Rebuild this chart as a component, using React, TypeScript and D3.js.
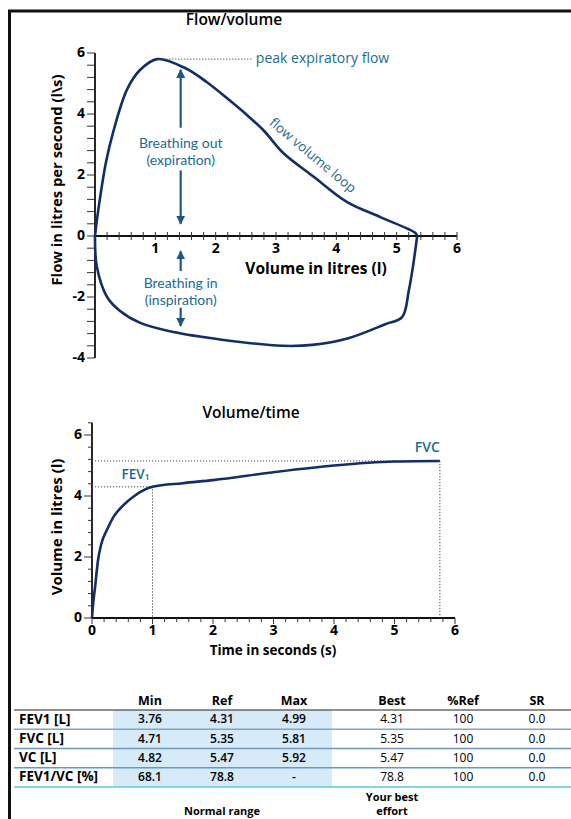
import React, { useRef, useEffect } from 'react'
import * as d3 from 'd3'

// flow/volume loop: [volume in l, flow in l/s]
const expiration: [number, number][] = [
  [0, 0], [0.03, 0.5], [0.08, 1.2], [0.18, 2.4], [0.3, 3.4], [0.53, 4.8], [0.75, 5.45],
  [1.03, 5.8], [1.5, 5.5], [1.85, 5.05], [2.2, 4.5], [2.5, 4.0], [2.8, 3.45], [3.12, 2.72],
  [3.62, 1.95], [4.18, 1.11], [4.73, 0.62], [5.31, 0.1], [5.34, 0]
]
const inspiration: [number, number][] = [
  [0, 0], [0.03, -1.0], [0.2, -2.0], [0.41, -2.45], [0.75, -2.85], [1.3, -3.15], [2.1, -3.4],
  [3.1, -3.6], [3.6, -3.57], [4.2, -3.35], [4.8, -2.9], [5.09, -2.66], [5.2, -1.8],
  [5.27, -1.0], [5.34, 0]
]
// volume/time curve: [time in s, volume in l]
const volumeTime: [number, number][] = [
  [0, 0], [0.02, 0.5], [0.05, 1.0], [0.1, 1.9], [0.15, 2.4], [0.25, 2.9], [0.35, 3.3],
  [0.52, 3.7], [0.7, 4.0], [1.0, 4.3], [1.5, 4.42], [2, 4.52], [3, 4.78], [4, 5.0],
  [5, 5.13], [5.75, 5.15]
]
const peakFlow = { vol: 1.03, flow: 5.8, lineEnd: 2.6 }
const fev1 = { t: 1, v: 4.3 }
const fvc = { t: 5.75, v: 5.15 }

const flowLabels = [-4, -2, 0, 2, 4, 6]
const volLabels = [1, 2, 3, 4, 5, 6]
const volTimeLabels = [0, 2, 4, 6]
const timeLabels = [0, 1, 2, 3, 4, 5, 6]

const rowLabels = ['FEV1 [L]', 'FVC [L]', 'VC [L]', 'FEV1/VC [%]']
const colHeads = ['Min', 'Ref', 'Max', 'Best', '%Ref', 'SR']
const minValues = ['3.76', '4.71', '4.82', '68.1']
const refValues = ['4.31', '5.35', '5.47', '78.8']
const maxValues = ['4.99', '5.81', '5.92', '-']
const bestValues = ['4.31', '5.35', '5.47', '78.8']
const pctRefValues = ['100', '100', '100', '100']
const srValues = ['0.0', '0.0', '0.0', '0.0']

const font = '"Open Sans", sans-serif'
const noteFont = 'Lato, "Open Sans", sans-serif'
const navy = '#122d68'
const teal = '#1a6b91'
const arrowBlue = '#1d5785'

export default function App() {
  const ref = useRef<SVGSVGElement>(null)

  useEffect(() => {
    const svg = d3.select(ref.current)
    svg.selectAll('*').remove()

    // frame
    svg.append('line').attr('x1', 8).attr('x2', 571).attr('y1', 11).attr('y2', 11)
      .attr('stroke', '#111').attr('stroke-width', 3)
    svg.append('line').attr('x1', 9.5).attr('x2', 9.5).attr('y1', 10).attr('y2', 819)
      .attr('stroke', '#111').attr('stroke-width', 3)

    const defs = svg.append('defs')
    defs.append('marker').attr('id', 'head').attr('viewBox', '0 0 10 10')
      .attr('refX', 9).attr('refY', 5).attr('markerWidth', 9).attr('markerHeight', 9)
      .attr('markerUnits', 'userSpaceOnUse').attr('orient', 'auto')
      .append('path').attr('d', 'M0,0 L10,5 L0,10 Z').attr('fill', arrowBlue)

    // ---------- flow / volume ----------
    const xF = d3.scaleLinear().domain([0, 6]).range([95, 457])
    const yF = d3.scaleLinear().domain([-4, 6]).range([358, 53])
    const top = svg.append('g')

    top.append('text').text('Flow/volume').attr('x', 234).attr('y', 21)
      .attr('text-anchor', 'middle').attr('dominant-baseline', 'middle')
      .attr('font-family', font).attr('font-weight', 600).attr('font-size', 15.5)

    top.append('line').attr('x1', xF(0)).attr('x2', xF(0)).attr('y1', yF(-4)).attr('y2', yF(6))
      .attr('stroke', '#111').attr('stroke-width', 1.8)
    top.selectAll('.ytick').data(d3.range(0, 26).map(i => -4 + i * 0.4)).join('line')
      .attr('x1', xF(0) - 8).attr('x2', xF(0)).attr('y1', d => yF(d)).attr('y2', d => yF(d))
      .attr('stroke', '#333').attr('stroke-width', 1)
    top.selectAll('.ylab').data(flowLabels).join('text').text(d => d)
      .attr('x', xF(0) - 10).attr('y', d => yF(d)).attr('text-anchor', 'end')
      .attr('dominant-baseline', 'middle').attr('font-family', font).attr('font-weight', 700)
      .attr('font-size', 14)

    top.append('line').attr('x1', xF(0)).attr('x2', xF(6)).attr('y1', yF(0)).attr('y2', yF(0))
      .attr('stroke', '#111').attr('stroke-width', 1.8)
    top.selectAll('.xtick').data(d3.range(0, 31).map(i => i * 0.2)).join('line')
      .attr('x1', d => xF(d)).attr('x2', d => xF(d)).attr('y1', yF(0) - 4).attr('y2', yF(0) + 4)
      .attr('stroke', '#333').attr('stroke-width', 1)
    top.selectAll('.xlab').data(volLabels).join('text').text(d => d)
      .attr('x', d => xF(d)).attr('y', yF(0) + 13).attr('text-anchor', 'middle')
      .attr('dominant-baseline', 'middle').attr('font-family', font).attr('font-weight', 700)
      .attr('font-size', 14)

    top.append('text').text('Volume in litres (l)').attr('x', 316).attr('y', 270)
      .attr('text-anchor', 'middle').attr('dominant-baseline', 'middle')
      .attr('font-family', font).attr('font-weight', 700).attr('font-size', 15.5)
    top.append('text').text('Flow in litres per second (l\\s)')
      .attr('transform', `translate(58, 180) rotate(-90)`)
      .attr('text-anchor', 'middle').attr('dominant-baseline', 'middle')
      .attr('font-family', font).attr('font-weight', 700).attr('font-size', 14.8)

    const loopLine = d3.line<[number, number]>().x(d => xF(d[0])).y(d => yF(d[1]))
      .curve(d3.curveCatmullRom.alpha(0.5))
    top.append('path').attr('d', loopLine(expiration)).attr('fill', 'none')
      .attr('stroke', navy).attr('stroke-width', 2.6)
    top.append('path').attr('d', loopLine(inspiration)).attr('fill', 'none')
      .attr('stroke', navy).attr('stroke-width', 2.6)

    // peak expiratory flow
    top.append('line').attr('x1', xF(peakFlow.vol)).attr('x2', xF(peakFlow.lineEnd))
      .attr('y1', yF(peakFlow.flow)).attr('y2', yF(peakFlow.flow))
      .attr('stroke', '#444').attr('stroke-width', 1).attr('stroke-dasharray', '1.2,1.8')
    top.append('text').text('peak expiratory flow').attr('x', xF(peakFlow.lineEnd) + 4)
      .attr('y', yF(peakFlow.flow)).attr('dominant-baseline', 'middle')
      .attr('font-family', font).attr('font-size', 14).attr('fill', teal)

    top.append('text').text('flow volume loop')
      .attr('transform', `translate(${xF(3.6)}, ${yF(2.62)}) rotate(40)`)
      .attr('text-anchor', 'middle').attr('dominant-baseline', 'middle')
      .attr('font-family', font).attr('font-size', 13.5).attr('fill', teal)

    // breathing arrows
    const ax = xF(1.42)
    const arrows = [[3.55, 5.45], [2.15, 0.4], [-1.15, -0.5], [-2.35, -2.95]]
    top.selectAll('.arrow').data(arrows).join('line')
      .attr('x1', ax).attr('x2', ax).attr('y1', d => yF(d[0])).attr('y2', d => yF(d[1]))
      .attr('stroke', arrowBlue).attr('stroke-width', 2.2).attr('marker-end', 'url(#head)')
    const notes = [['Breathing out', '(expiration)', 3.05], ['Breathing in', '(inspiration)', -1.55]]
    notes.forEach(n => {
      const t = top.append('text').attr('text-anchor', 'middle').attr('font-family', noteFont)
        .attr('font-size', 14).attr('fill', teal)
      t.append('tspan').text(n[0] as string).attr('x', ax).attr('y', yF(n[2] as number) + 5)
      t.append('tspan').text(n[1] as string).attr('x', ax).attr('dy', 17)
    })

    // ---------- volume / time ----------
    const xT = d3.scaleLinear().domain([0, 6]).range([92, 455])
    const yV = d3.scaleLinear().domain([0, 6]).range([618, 435])
    const bot = svg.append('g')

    bot.append('text').text('Volume/time').attr('x', 251).attr('y', 414)
      .attr('text-anchor', 'middle').attr('dominant-baseline', 'middle')
      .attr('font-family', font).attr('font-weight', 600).attr('font-size', 15.5)

    bot.append('line').attr('x1', xT(0)).attr('x2', xT(0)).attr('y1', yV(0)).attr('y2', yV(6.4))
      .attr('stroke', '#111').attr('stroke-width', 1.8)
    bot.selectAll('.ytick').data(d3.range(0, 17)).join('line')
      .attr('x1', d => xT(0) - (d % 5 === 0 ? 8 : 4))
      .attr('x2', xT(0)).attr('y1', d => yV(d * 0.4)).attr('y2', d => yV(d * 0.4))
      .attr('stroke', '#333').attr('stroke-width', 1)
    bot.selectAll('.ylab').data(volTimeLabels).join('text').text(d => d)
      .attr('x', xT(0) - 10).attr('y', d => yV(d)).attr('text-anchor', 'end')
      .attr('dominant-baseline', 'middle').attr('font-family', font).attr('font-weight', 700)
      .attr('font-size', 14)

    bot.append('line').attr('x1', xT(0)).attr('x2', xT(6)).attr('y1', yV(0)).attr('y2', yV(0))
      .attr('stroke', '#111').attr('stroke-width', 1.8)
    bot.selectAll('.xtick').data(d3.range(0, 31).map(i => i * 0.2)).join('line')
      .attr('x1', d => xT(d)).attr('x2', d => xT(d)).attr('y1', yV(0))
      .attr('y2', (d, i) => yV(0) + (i % 5 === 0 ? 6 : 4))
      .attr('stroke', '#333').attr('stroke-width', 1)
    bot.selectAll('.xlab').data(timeLabels).join('text').text(d => d)
      .attr('x', d => xT(d)).attr('y', yV(0) + 13).attr('text-anchor', 'middle')
      .attr('dominant-baseline', 'middle').attr('font-family', font).attr('font-weight', 700)
      .attr('font-size', 14)

    bot.append('text').text('Time in seconds (s)').attr('x', 273).attr('y', 651)
      .attr('text-anchor', 'middle').attr('dominant-baseline', 'middle')
      .attr('font-family', font).attr('font-weight', 700).attr('font-size', 13.5)
    bot.append('text').text('Volume in litres (l)')
      .attr('transform', `translate(58, 527) rotate(-90)`)
      .attr('text-anchor', 'middle').attr('dominant-baseline', 'middle')
      .attr('font-family', font).attr('font-weight', 700).attr('font-size', 15)

    // guide lines for FEV1 and FVC
    const guides = [fev1, fvc]
    guides.forEach(g => {
      bot.append('polyline')
        .attr('points', `${xT(0)},${yV(g.v)} ${xT(g.t)},${yV(g.v)} ${xT(g.t)},${yV(0)}`)
        .attr('fill', 'none').attr('stroke', '#444').attr('stroke-width', 1)
        .attr('stroke-dasharray', '1.2,1.8')
    })

    const vtLine = d3.line<[number, number]>().x(d => xT(d[0])).y(d => yV(d[1]))
      .curve(d3.curveMonotoneX)
    bot.append('path').attr('d', vtLine(volumeTime)).attr('fill', 'none')
      .attr('stroke', navy).attr('stroke-width', 2.6)

    const fevText = bot.append('text').attr('x', xT(fev1.t) - 31).attr('y', yV(fev1.v) - 12)
      .attr('dominant-baseline', 'middle').attr('font-family', font).attr('font-weight', 600)
      .attr('font-size', 13.5).attr('fill', teal)
    fevText.append('tspan').text('FEV')
    fevText.append('tspan').text('1').attr('font-size', 8.5).attr('dy', 3)
    bot.append('text').text('FVC').attr('x', xT(fvc.t)).attr('y', yV(fvc.v) - 13)
      .attr('text-anchor', 'end').attr('dominant-baseline', 'middle')
      .attr('font-family', font).attr('font-weight', 600).attr('font-size', 14).attr('fill', teal)

    // ---------- table ----------
    const colX = [150, 222, 294, 392, 463, 537]
    const yRow = d3.scaleBand().domain(rowLabels).range([710, 787])
    const tbl = svg.append('g')

    tbl.append('rect').attr('x', 113).attr('y', yRow.range()[0]).attr('width', 219)
      .attr('height', yRow.range()[1] - yRow.range()[0]).attr('fill', '#d6eaf8')

    tbl.selectAll('.head').data(colHeads).join('text').text(d => d)
      .attr('x', (d, i) => colX[i]).attr('y', 702).attr('text-anchor', 'middle')
      .attr('dominant-baseline', 'middle').attr('font-family', font).attr('font-weight', 700)
      .attr('font-size', 12.5)
    tbl.append('line').attr('x1', 14).attr('x2', 571).attr('y1', 710).attr('y2', 710)
      .attr('stroke', '#222').attr('stroke-width', 1.2)

    const sepColors = ['#7ea4c8', '#6e97c0', '#5a9bd6', '#86d2ec']
    tbl.selectAll('.sep').data(rowLabels).join('line')
      .attr('x1', 14).attr('x2', 571)
      .attr('y1', d => (yRow(d) as number) + yRow.bandwidth())
      .attr('y2', d => (yRow(d) as number) + yRow.bandwidth())
      .attr('stroke', (d, i) => sepColors[i]).attr('stroke-width', (d, i) => i === 3 ? 2.2 : 1.6)

    tbl.selectAll('.rowlab').data(rowLabels).join('text').text(d => d)
      .attr('x', 19).attr('y', d => (yRow(d) as number) + yRow.bandwidth() / 2 + 0.5)
      .attr('dominant-baseline', 'middle').attr('font-family', font).attr('font-weight', 700)
      .attr('font-size', 13.5)

    const columns = [minValues, refValues, maxValues, bestValues, pctRefValues, srValues]
    columns.forEach((vals, ci) => {
      tbl.selectAll(`.c${ci}`).data(vals).join('text').text(d => d)
        .attr('x', colX[ci]).attr('y', (d, i) => (yRow(rowLabels[i]) as number) + yRow.bandwidth() / 2 + 0.5)
        .attr('text-anchor', 'middle').attr('dominant-baseline', 'middle')
        .attr('font-family', font).attr('font-weight', ci < 3 ? 600 : 400).attr('font-size', 12)
    })

    tbl.append('text').text('Normal range').attr('x', colX[1]).attr('y', 812)
      .attr('text-anchor', 'middle').attr('dominant-baseline', 'middle')
      .attr('font-family', font).attr('font-weight', 700).attr('font-size', 11)
    const best = tbl.append('text').attr('text-anchor', 'middle').attr('font-family', font)
      .attr('font-weight', 700).attr('font-size', 11)
    best.append('tspan').text('Your best').attr('x', colX[3]).attr('y', 801)
    best.append('tspan').text('effort').attr('x', colX[3]).attr('dy', 14)
  }, [])

  return (
    <svg ref={ref} width={571} height={819}
      style={{ position: 'absolute', left: 0, top: 0, background: '#fff' }} />
  )
}
